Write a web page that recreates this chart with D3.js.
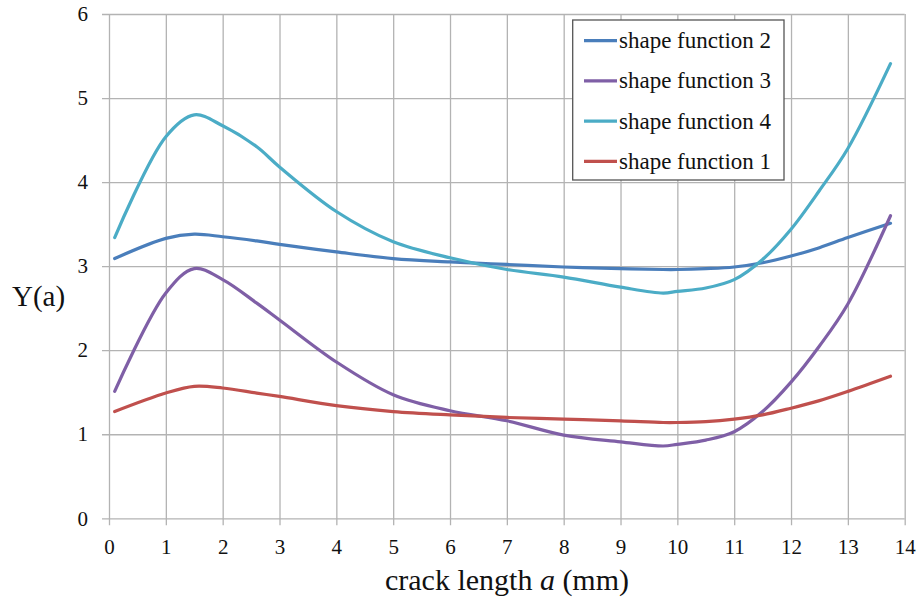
<!DOCTYPE html>
<html>
<head>
<meta charset="utf-8">
<script src="https://cdn.jsdelivr.net/npm/d3@7"></script>
<style>
  html, body { margin: 0; padding: 0; background: #fff; }
  svg { display: block; }
  svg text { font-family: "Liberation Serif", "Times New Roman", serif; }
</style>
</head>
<body>
<svg id="chart" width="919" height="601"></svg>
<script>
// crack length positions (mm)
const crackLength = [0.1, 1, 1.5, 2, 2.6, 3, 4, 5, 6, 7, 8, 9, 9.75, 10, 10.5, 11, 11.5, 12, 12.5, 13, 13.75];

// Y(a) for each shape function
const shapeFn1 = [1.27, 1.49, 1.57, 1.55, 1.49, 1.45, 1.34, 1.27, 1.23, 1.20, 1.18, 1.16, 1.14, 1.14, 1.15, 1.18, 1.23, 1.31, 1.40, 1.51, 1.69];
const shapeFn2 = [3.09, 3.33, 3.38, 3.35, 3.30, 3.26, 3.17, 3.09, 3.05, 3.02, 2.99, 2.97, 2.96, 2.96, 2.97, 2.99, 3.04, 3.12, 3.22, 3.34, 3.51];
const shapeFn3 = [1.51, 2.68, 2.97, 2.84, 2.56, 2.36, 1.86, 1.47, 1.28, 1.16, 0.99, 0.91, 0.86, 0.88, 0.93, 1.03, 1.27, 1.62, 2.05, 2.55, 3.60];
const shapeFn4 = [3.34, 4.54, 4.80, 4.67, 4.42, 4.18, 3.65, 3.29, 3.10, 2.96, 2.87, 2.75, 2.68, 2.70, 2.74, 2.84, 3.08, 3.44, 3.90, 4.40, 5.41];

const xTicks = [0, 1, 2, 3, 4, 5, 6, 7, 8, 9, 10, 11, 12, 13, 14];
const yTicks = [0, 1, 2, 3, 4, 5, 6];

// drawing order and legend order
const seriesNames = ["shape function 2", "shape function 3", "shape function 4", "shape function 1"];
const seriesValues = [shapeFn2, shapeFn3, shapeFn4, shapeFn1];
const seriesColors = ["#4A7EBB", "#7F5FA6", "#4BACC6", "#C0504D"];

const serif = "Liberation Serif";
const svg = d3.select("#chart");
const x = d3.scaleLinear().domain([0, 14]).range([109, 904.7]);
const y = d3.scaleLinear().domain([0, 6]).range([518.3, 14]);

const gridColor = "#b3b3b3";

// horizontal gridlines with outward tick stubs, labels on the left
const yAxis = d3.axisLeft(y).tickValues(yTicks).tickSize(x(14) - x(0) + 7).tickPadding(14).tickFormat(d3.format("d"));
svg.append("g")
  .attr("transform", `translate(${x(14)},0)`)
  .call(yAxis)
  .attr("font-family", serif)
  .call(g => g.select(".domain").remove())
  .call(g => g.selectAll(".tick line").attr("stroke", gridColor).attr("stroke-width", 1.3))
  .call(g => g.selectAll(".tick text").attr("font-size", 21).attr("fill", "#111")
    .attr("font-family", serif));

// vertical gridlines with tick stubs below, labels underneath
const xAxis = d3.axisBottom(x).tickValues(xTicks).tickSize(-(y(0) - y(6))).tickPadding(0).tickFormat(d3.format("d"));
svg.append("g")
  .attr("transform", `translate(0,${y(0) + 7})`)
  .call(xAxis)
  .attr("font-family", serif)
  .call(g => g.select(".domain").remove())
  .call(g => g.selectAll(".tick line").attr("y1", 0).attr("y2", -(y(0) + 7 - y(6)))
    .attr("stroke", gridColor).attr("stroke-width", 1.3))
  .call(g => g.selectAll(".tick text").attr("font-size", 21).attr("fill", "#111")
    .attr("font-family", serif).attr("y", 0).attr("dy", 28.5));

// series curves
const line = d3.line()
  .x((d, i) => x(crackLength[i]))
  .y(d => y(d))
  .curve(d3.curveCatmullRom.alpha(0.5));

seriesValues.forEach((vals, k) => {
  svg.append("path")
    .datum(vals)
    .attr("d", line)
    .attr("fill", "none")
    .attr("stroke", seriesColors[k])
    .attr("stroke-width", 3.2)
    .attr("stroke-linecap", "round")
    .attr("stroke-linejoin", "round");
});

// legend
const legend = svg.append("g").attr("font-family", serif);
legend.append("rect")
  .attr("x", 572.7).attr("y", 20).attr("width", 211.3).attr("height", 160)
  .attr("fill", "#fff").attr("stroke", "#555").attr("stroke-width", 1.3);
seriesNames.forEach((name, k) => {
  const cy = 40.7 + k * 40.2;
  legend.append("line")
    .attr("x1", 584).attr("x2", 617).attr("y1", cy).attr("y2", cy)
    .attr("stroke", seriesColors[k]).attr("stroke-width", 3.2);
  legend.append("text")
    .attr("x", 619).attr("y", cy).attr("dy", "0.33em")
    .attr("font-family", serif)
    .attr("font-size", 23).attr("fill", "#111")
    .text(name);
});

// axis titles
const xTitle = svg.append("text")
  .attr("x", 507).attr("y", 590)
  .attr("text-anchor", "middle")
  .attr("font-family", serif)
  .attr("font-size", 30).attr("fill", "#111");
xTitle.append("tspan").text("crack length ");
xTitle.append("tspan").attr("font-style", "italic").text("a");
xTitle.append("tspan").text(" (mm)");

svg.append("text")
  .attr("x", 12).attr("y", 306)
  .attr("font-family", serif)
  .attr("font-size", 29).attr("fill", "#111")
  .text("Y(a)");
</script>
</body>
</html>
